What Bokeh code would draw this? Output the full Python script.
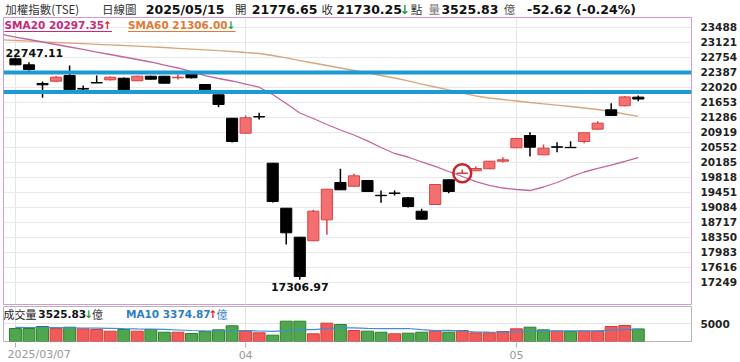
from bokeh.plotting import figure
from bokeh.models import ColumnDataSource, FixedTicker, Span, Label, Range1d
from bokeh.layouts import column
from bokeh.embed import file_html
from bokeh.resources import INLINE
from bokeh.core.properties import value

# ---------------- data ----------------
dates = [
    "2025-03-07", "2025-03-10", "2025-03-11", "2025-03-12", "2025-03-13", "2025-03-14",
    "2025-03-17", "2025-03-18", "2025-03-19", "2025-03-20", "2025-03-21", "2025-03-24",
    "2025-03-25", "2025-03-26", "2025-03-27", "2025-03-28", "2025-03-31",
    "2025-04-01", "2025-04-02", "2025-04-07", "2025-04-08", "2025-04-09", "2025-04-10",
    "2025-04-11", "2025-04-14", "2025-04-15", "2025-04-16", "2025-04-17", "2025-04-18",
    "2025-04-21", "2025-04-22", "2025-04-23", "2025-04-24", "2025-04-25", "2025-04-28",
    "2025-04-29", "2025-04-30",
    "2025-05-02", "2025-05-05", "2025-05-06", "2025-05-07", "2025-05-08", "2025-05-09",
    "2025-05-12", "2025-05-13", "2025-05-14", "2025-05-15",
]
opens = [22715, 22568, 22111, 22167, 22306, 21985, 22132, 22201, 22240, 22177,
         22289, 22289, 22250, 22372, 22086, 21834, 21261, 20894, 21300, 20160,
         19059, 18350, 18262, 18775, 19688, 19597, 19737, 19375, 19430, 19314,
         18986, 19150, 19754, 19910, 19975, 20023, 20209, 20537, 20838, 20366,
         20560, 20548, 20691, 20993, 21467, 21565, 21776.65]
highs = [22747.11, 22632, 22159, 22294, 22551, 22062, 22306, 22282, 22257, 22302,
         22302, 22295, 22331, 22392, 22098, 21841, 21266, 21328, 21394, 20165,
         19064, 18355, 19020, 19530, 20023, 19901, 19749, 19492, 19492, 19333,
         19044, 19650, 19762, 20006, 20080, 20215, 20307, 20775, 20919, 20618,
         20674, 20699, 20910, 21188, 21628, 21805, 21817]
lows = [22556, 22421, 21761, 22147, 21951, 21922, 22120, 22184, 21922, 22172,
        22208, 22110, 22208, 22233, 21939, 21531, 20667, 20887, 21230, 19199,
        18171, 17306.97, 18257, 18408, 19504, 19590, 19456, 19191, 19370, 19076,
        18783, 19140, 19426, 19908, 19969, 20018, 20177, 20530, 20324, 20360,
        20430, 20538, 20650, 20985, 21320, 21555, 21678]
closes = [22568, 22453, 22079, 22265, 21956, 21975, 22125, 22265, 21956, 22289,
          22216, 22118, 22265, 22250, 21956, 21597, 20691, 21271, 21292, 19223,
          18457, 17388, 18986, 19524, 19509, 19852, 19468, 19365, 19422, 19101,
          18790, 19639, 19468, 19920, 20031, 20209, 20243, 20765, 20552, 20527,
          20552, 20540, 20904, 21140, 21328, 21782.87, 21730.25]
volumes = [3640, 3640, 4200, 3640, 4000, 3550, 3360, 2890, 3360, 2890,
           3360, 2600, 2600, 2240, 2800, 3270, 4390, 2890, 2430, 1770,
           5690, 5690, 2150, 5130, 4760, 3080, 2890, 2600, 2150, 2330,
           2600, 2890, 2600, 3080, 2430, 2430, 2800, 3550, 4000, 3270,
           2890, 2800, 2890, 2890, 4200, 4480, 3525.83]
vol_ma10 = [3950, 3920, 3900, 3870, 3830, 3780, 3720, 3650, 3580, 3517,
            3489, 3385, 3225, 3085, 2965, 2937, 3040, 3040, 2947, 2835,
            3068, 3377, 3332, 3621, 3817, 3798, 3648, 3619, 3591, 3647,
            3338, 3058, 3103, 2898, 2665, 2600, 2591, 2686, 2871, 2965,
            2994, 2985, 3014, 2995, 3172, 3330, 3374.87]
# moving averages, first value is the day before the window (2025-03-06)
sma20 = [23310, 23248, 23187, 23126, 23065, 23004, 22943, 22881, 22820, 22759, 22698,
         22637, 22563, 22490, 22404, 22306, 22233, 22172, 22098, 22020, 21841,
         21621, 21389, 21254, 21107, 20973, 20850, 20706, 20544, 20398, 20312,
         20190, 20080, 19957, 19835, 19712, 19615, 19553, 19517, 19492, 19578,
         19688, 19823, 19945, 20031, 20116, 20202, 20297.35]
sma60 = [23178, 23163, 23146, 23129, 23114, 23099, 23085, 23070, 23055, 23040, 23026,
         23009, 22991, 22972, 22952, 22933, 22913, 22894, 22869, 22845, 22796,
         22735, 22673, 22612, 22551, 22490, 22429, 22368, 22306, 22245, 22172,
         22098, 22025, 21952, 21878, 21805, 21756, 21719, 21682, 21646, 21614,
         21582, 21548, 21511, 21474, 21425, 21364, 21306.00]
price_ticks = [17249, 17616, 17983, 18350, 18717, 19084, 19451, 19818, 20185,
               20552, 20919, 21286, 21653, 22020, 22387, 22754, 23121, 23488]
volume_ticks = [5000]
support_lines = [22380, 21900]
marked_day = "2025-04-25"

# ---------------- derived ----------------
n = len(dates)
idx = list(range(n))
ma_x = list(range(-1, n))
month_ticks = [0] + [i for i in range(1, n) if dates[i][5:7] != dates[i - 1][5:7]]
tick_text = [dates[0].replace("-", "/")] + [dates[i][5:7] for i in month_ticks[1:]]

RED_FILL, RED_EDGE = "#f46f6f", "#d94040"
up = [c > o for o, c in zip(opens, closes)]
c_fill = [RED_FILL if u else "#000000" for u in up]
c_edge = [RED_EDGE if u else "#000000" for u in up]
tops = [max(o, c) for o, c in zip(opens, closes)]
bots = [min(o, c) for o, c in zip(opens, closes)]
vol_up = [closes[0] >= opens[0]] + [closes[i] >= closes[i - 1] for i in range(1, n)]
v_fill = ["#f25959" if u else "#4fa64f" for u in vol_up]
v_edge = ["#d63c3c" if u else "#2f802f" for u in vol_up]

csrc = ColumnDataSource(dict(x=idx, high=highs, low=lows, top=tops, bottom=bots,
                             fill=c_fill, edge=c_edge))
vsrc = ColumnDataSource(dict(x=idx, vol=volumes, fill=v_fill, edge=v_edge))

# ---------------- layout constants (page pixels) ----------------
W = 740
FL, FR = 3, 694
HEAD_H = 17
P_TOP, P_BOT = 17, 304          # main frame
V_TOP, V_BOT = 306, 341         # volume frame
STRIP_TOP = 342
x_lo, x_hi = -0.882, 49.93
y_lo, y_hi = 16702.7, 23725.6
v_hi = 9800

NUM = "DejaVu Sans"
CJK = "Noto Sans CJK TC"
GREEN, REDA = "#2a9a3a", "#e02020"


def px_x(px):
    return x_lo + (px - FL) * (x_hi - x_lo) / (FR - FL)


def py_main(py):
    return y_hi - (py - P_TOP) * (y_hi - y_lo) / (P_BOT - P_TOP)


def py_vol(py):
    return (V_BOT - py) * v_hi / (V_BOT - V_TOP)


def put(fig, x, y, text, size="13px", color="#111111", bold=False, font=NUM, align="left"):
    fig.add_layout(Label(x=x, y=y, text=text, text_font=font,
                         text_font_size=size, text_color=color,
                         text_font_style="bold" if bold else "normal",
                         text_align=align, text_baseline="middle"))


# ---------------- header strip ----------------
hd = figure(width=W, height=HEAD_H, output_backend="svg", toolbar_location=None,
            x_range=Range1d(0, W), y_range=Range1d(HEAD_H, 0),
            x_axis_location=None, y_axis_location=None,
            min_border_left=0, min_border_right=0, min_border_top=0, min_border_bottom=0)
hd.outline_line_color = None
hd.grid.visible = False

chg = closes[-1] - closes[-2]
pct = chg / closes[-2] * 100
HY = 8.5
HN = "12.5px"
HC = "11.5px"
put(hd, 2, HY, "加權指數(TSE)", HC, "#333333", font=CJK)
put(hd, 106, HY, "日線圖", HC, "#333333", font=CJK)
put(hd, 153, HY, dates[-1].replace("-", "/"), HN, "#111111", True)
put(hd, 249, HY, "開", HC, "#333333", font=CJK)
put(hd, 267, HY, f"{opens[-1]:.2f}", HN, "#111111", True)
put(hd, 342, HY, "收", HC, "#333333", font=CJK)
put(hd, 358, HY, f"{closes[-1]:.2f}", HN, "#111111", True)
put(hd, 426, HY, "↓" if chg < 0 else "↑", HN, GREEN if chg < 0 else REDA, True)
put(hd, 438, HY, "點", HC, "#333333", font=CJK)
put(hd, 457, HY, "量", HC, "#777777", font=CJK)
put(hd, 471, HY, f"{volumes[-1]:.2f}", HN, "#111111", True)
put(hd, 538, HY, "億", HC, "#555555", font=CJK)
put(hd, 563, HY, f"{chg:.2f} ({pct:.2f}%)", HN, "#111111", True)

# ---------------- main price panel ----------------
p = figure(width=W, height=P_BOT + 1 - HEAD_H, output_backend="svg", toolbar_location=None,
           x_range=Range1d(x_lo, x_hi), y_range=Range1d(y_lo, y_hi),
           x_axis_location=None, y_axis_location="right",
           min_border_left=FL, min_border_right=W - FR, min_border_top=P_TOP - HEAD_H,
           min_border_bottom=1)
p.outline_line_color = "#d597d8"
p.outline_line_width = 1
p.ygrid.ticker = FixedTicker(ticks=price_ticks)
p.xgrid.ticker = FixedTicker(ticks=month_ticks)
p.ygrid.grid_line_color = "#e9e9e9"
p.xgrid.grid_line_color = "#e4e4e4"
yax = p.yaxis[0]
yax.ticker = FixedTicker(ticks=price_ticks)
yax.axis_line_color = None
yax.major_tick_line_color = None
yax.minor_tick_line_color = None
yax.major_label_standoff = 3
yax.major_label_text_font = NUM
yax.major_label_text_font_style = "bold"
yax.major_label_text_font_size = "10.5px"
yax.major_label_text_color = "#222222"

p.line(ma_x, sma60, line_color="#d9a57a", line_width=1.3)
p.line(ma_x, sma20, line_color="#c4669e", line_width=1.3)

p.segment(x0="x", y0="high", x1="x", y1="low", source=csrc, line_color="edge", line_width=1.5)
p.vbar(x="x", width=0.82, top="top", bottom="bottom", source=csrc,
       fill_color="fill", line_color="edge", line_width=1)

for lv in support_lines:
    p.add_layout(Span(location=lv, dimension="width", line_color="#1c9ad6", line_width=4))

mi = dates.index(marked_day)
p.scatter([mi], [(opens[mi] + closes[mi]) / 2], marker="circle", size=18,
          fill_color=None, line_color="#c4262e", line_width=2.5)

hi_i = highs.index(max(highs))
lo_i = lows.index(min(lows))
p.add_layout(Label(x=hi_i, y=highs[hi_i], text=f"{highs[hi_i]:.2f}", x_offset=-10, y_offset=0,
                   text_align="left", text_baseline="bottom", text_font=NUM,
                   text_font_style="bold", text_font_size="11px", text_color="#111111"))
p.add_layout(Label(x=lo_i, y=lows[lo_i], text=f"{lows[lo_i]:.2f}", y_offset=-3,
                   text_align="center", text_baseline="top", text_font=NUM,
                   text_font_style="bold", text_font_size="11px", text_color="#111111"))

LY = 24
s20_up = sma20[-1] >= sma20[-2]
s60_up = sma60[-1] >= sma60[-2]
put(p, px_x(4), py_main(LY), f"SMA20 {sma20[-1]:.2f}", "10.5px", "#c8287a", True)
put(p, px_x(103), py_main(LY), "↑" if s20_up else "↓", "10.5px", REDA if s20_up else GREEN, True)
put(p, px_x(128), py_main(LY), f"SMA60 {sma60[-1]:.2f}", "10.5px", "#e07a35", True)
put(p, px_x(227), py_main(LY), "↑" if s60_up else "↓", "10.5px", REDA if s60_up else GREEN, True)
p.segment(x0=[px_x(4), px_x(128)], y0=[py_main(31)] * 2, x1=[px_x(112), px_x(236)],
          y1=[py_main(31)] * 2, line_color=["#c8287a", "#e07a35"], line_width=1)

# ---------------- volume panel ----------------
pv = figure(width=W, height=STRIP_TOP - (P_BOT + 1), output_backend="svg", toolbar_location=None,
            x_range=p.x_range, y_range=Range1d(0, v_hi),
            x_axis_location=None, y_axis_location="right",
            min_border_left=FL, min_border_right=W - FR, min_border_top=V_TOP - (P_BOT + 1),
            min_border_bottom=STRIP_TOP - V_BOT)
pv.outline_line_color = "#b5b5b5"
pv.ygrid.ticker = FixedTicker(ticks=volume_ticks)
pv.xgrid.ticker = FixedTicker(ticks=month_ticks)
pv.ygrid.grid_line_color = "#e6e6e6"
pv.xgrid.grid_line_color = "#e4e4e4"
vy = pv.yaxis[0]
vy.ticker = FixedTicker(ticks=volume_ticks)
vy.axis_line_color = None
vy.major_tick_line_color = None
vy.minor_tick_line_color = None
vy.major_label_standoff = 3
vy.major_label_text_font = NUM
vy.major_label_text_font_style = "bold"
vy.major_label_text_font_size = "10.5px"
vy.major_label_text_color = "#222222"

pv.vbar(x="x", width=0.88, top="vol", bottom=0, source=vsrc, fill_color="fill", line_color="edge", line_width=1)
pv.line(idx, vol_ma10, line_color="#3f8fd0", line_width=1.2)

VY = 313
v_up = volumes[-1] >= volumes[-2]
m_up = vol_ma10[-1] >= vol_ma10[-2]
put(pv, px_x(3), py_vol(VY), "成交量", "11px", "#222222", font=CJK)
put(pv, px_x(38), py_vol(VY), f"{volumes[-1]:.2f}", "10.5px", "#111111", True)
put(pv, px_x(84), py_vol(VY), "↑" if v_up else "↓", "10.5px", REDA if v_up else GREEN, True)
put(pv, px_x(92), py_vol(VY), "億", "11px", "#333333", font=CJK)
put(pv, px_x(126), py_vol(VY), f"MA10 {vol_ma10[-1]:.2f}", "10.5px", "#2f7fc0", True)
put(pv, px_x(209), py_vol(VY), "↑" if m_up else "↓", "10.5px", REDA if m_up else GREEN, True)
put(pv, px_x(217), py_vol(VY), "億", "11px", "#2f7fc0", font=CJK)

# ---------------- date axis strip ----------------
SH = 362 - STRIP_TOP
ax = figure(width=W, height=SH, output_backend="svg", toolbar_location=None,
            x_range=p.x_range, y_range=Range1d(SH, 0),
            x_axis_location=None, y_axis_location=None,
            min_border_left=FL, min_border_right=W - FR, min_border_top=0, min_border_bottom=0)
ax.outline_line_color = None
ax.grid.visible = False
tsrc = ColumnDataSource(dict(x=month_ticks, text=tick_text,
                             align=["left"] + ["center"] * (len(month_ticks) - 1),
                             xo=[-8] + [0] * (len(month_ticks) - 1)))
ax.segment(x0="x", y0=0, x1="x", y1=5, source=tsrc, line_color="#aaaaaa", line_width=1)
ax.text(x="x", y=12, text="text", source=tsrc, text_align="align", x_offset="xo",
        text_baseline="middle", text_font=value(NUM), text_font_size="11px", text_color="#999999")

layout = column(hd, p, pv, ax)
open("out.html", "w").write(file_html(layout, INLINE))
